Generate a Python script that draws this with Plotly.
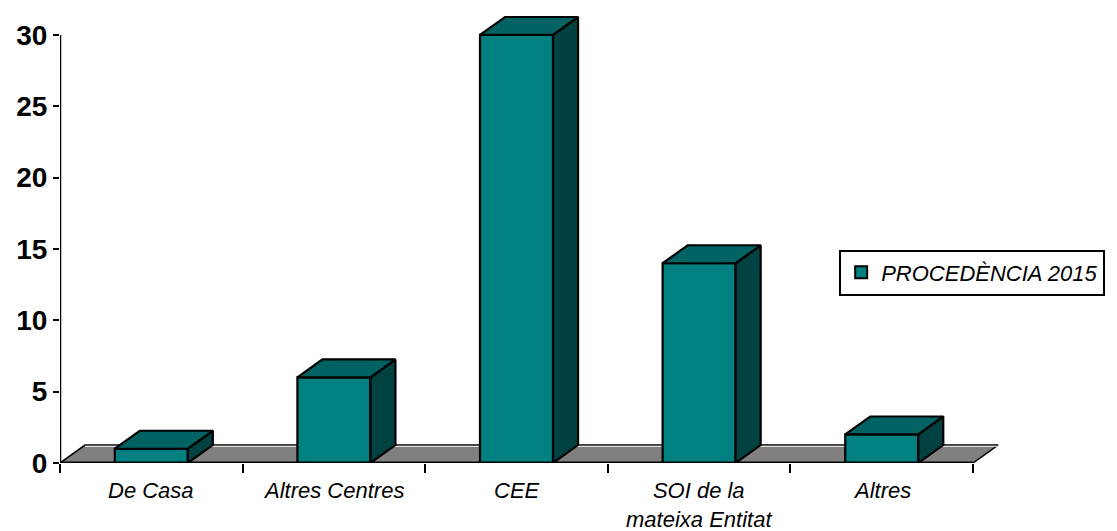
import plotly.graph_objects as go

# ---- data ----
categories = ["De Casa", "Altres Centres", "CEE", "SOI de la<br>mateixa Entitat", "Altres"]
values = [1, 6, 30, 14, 2]
series_name = "PROCEDÈNCIA 2015"
y_ticks = [0, 5, 10, 15, 20, 25, 30]

# ---- style / geometry ----
FRONT = "#008080"
TOP = "#006262"
SIDE = "#004141"
FLOOR = "#808080"
BAR_HALF = 0.2          # half bar width in category units
DX = 0.137              # depth offset (x units)
DY = 1.26               # depth offset (y units)
FONT = "Arial, Liberation Sans, sans-serif"

fig = go.Figure()

n = len(categories)

# floor
fig.add_trace(go.Scatter(
    x=[0, n, n + DX, DX, 0], y=[0, 0, DY, DY, 0],
    fill="toself", fillcolor=FLOOR, mode="lines",
    line=dict(color="black", width=1.5),
    showlegend=False, hoverinfo="skip"))
# white highlight on back edge of floor
fig.add_trace(go.Scatter(
    x=[DX, n + DX], y=[DY * 0.93, DY * 0.93], mode="lines",
    line=dict(color="white", width=1),
    showlegend=False, hoverinfo="skip"))

for i, v in enumerate(values):
    xc = i + 0.5
    x0, x1 = xc - BAR_HALF, xc + BAR_HALF
    # front face
    fig.add_trace(go.Scatter(
        x=[x0, x1, x1, x0, x0], y=[0, 0, v, v, 0],
        fill="toself", fillcolor=FRONT, mode="lines",
        line=dict(color="black", width=2.2),
        showlegend=False, hoverinfo="skip"))
    # side face
    fig.add_trace(go.Scatter(
        x=[x1, x1 + DX, x1 + DX, x1, x1], y=[0, DY, v + DY, v, 0],
        fill="toself", fillcolor=SIDE, mode="lines",
        line=dict(color="black", width=2.2),
        showlegend=False, hoverinfo="skip"))
    # top face
    fig.add_trace(go.Scatter(
        x=[x0, x1, x1 + DX, x0 + DX, x0], y=[v, v, v + DY, v + DY, v],
        fill="toself", fillcolor=TOP, mode="lines",
        line=dict(color="black", width=2.2),
        showlegend=False, hoverinfo="skip"))

# legend entry
fig.add_trace(go.Scatter(
    x=[None], y=[None], mode="markers", name=series_name,
    marker=dict(symbol="square", size=12, color=FRONT,
                line=dict(color="black", width=1.5)),
    showlegend=True))

# axis lines
fig.add_shape(type="line", xref="x", yref="y", x0=0, x1=0, y0=0, y1=max(y_ticks),
              line=dict(color="black", width=2.5))
fig.add_shape(type="line", xref="x", yref="y", x0=0, x1=n, y0=0, y1=0,
              line=dict(color="black", width=3))

# category labels
for i, c in enumerate(categories):
    fig.add_annotation(x=i + 0.5, y=0, xref="x", yref="y", text=c,
                       showarrow=False, yanchor="top", yshift=-13,
                       align="center",
                       font=dict(family=FONT, size=22, color="black", style="italic"))

fig.update_layout(
    width=1109, height=523, autosize=False,
    margin=dict(l=52, r=112, t=2, b=68, pad=0),
    paper_bgcolor="white", plot_bgcolor="white",
    xaxis=dict(range=[0, 5.175], showgrid=False, zeroline=False, showline=False,
               tickvals=list(range(n + 1)), ticks="outside", ticklen=9,
               tickwidth=2, tickcolor="black", showticklabels=False,
               fixedrange=True),
    yaxis=dict(range=[0, 31.75], showgrid=False, zeroline=False, showline=False,
               tickvals=y_ticks, ticks="outside", ticklen=6, tickwidth=2,
               tickcolor="black",
               tickfont=dict(family=FONT, size=28, color="black", weight="bold"),
               fixedrange=True),
    legend=dict(x=0.8245, y=0.4205, xanchor="left", yanchor="middle",
                bordercolor="black", borderwidth=2, bgcolor="white",
                font=dict(family=FONT, size=22, color="black", style="italic"),
                itemsizing="constant"),
    showlegend=True,
)

fig.write_html("out.html")
